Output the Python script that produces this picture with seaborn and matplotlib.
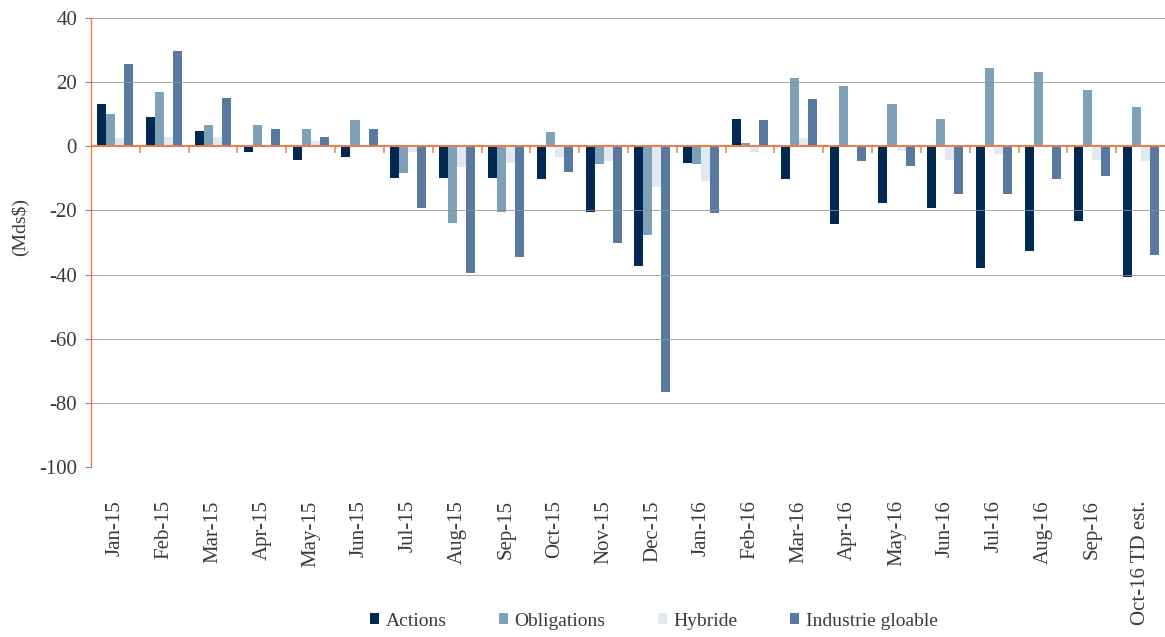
import numpy as np
import pandas as pd
import seaborn as sns
import matplotlib.pyplot as plt

# Monthly net flows (billions of dollars) by fund category
months = ['Jan-15', 'Feb-15', 'Mar-15', 'Apr-15', 'May-15', 'Jun-15', 'Jul-15',
          'Aug-15', 'Sep-15', 'Oct-15', 'Nov-15', 'Dec-15', 'Jan-16', 'Feb-16',
          'Mar-16', 'Apr-16', 'May-16', 'Jun-16', 'Jul-16', 'Aug-16', 'Sep-16',
          'Oct-16 TD est.']
actions = [13.1, 9.0, 4.7, -1.9, -4.3, -3.4, -9.9, -10.0, -10.0, -10.3, -20.5,
           -37.4, -5.3, 8.4, -10.3, -24.3, -17.8, -19.3, -38.0, -32.7, -23.4, -40.8]
obligations = [10.0, 16.8, 6.6, 6.6, 5.3, 8.1, -8.3, -24.0, -20.5, 4.4, -5.6,
               -27.7, -5.6, 1.0, 21.3, 18.8, 13.1, 8.4, 24.4, 23.2, 17.6, 12.2]
hybride = [2.5, 2.8, 2.8, 0.0, 1.6, 0.0, -1.7, -6.5, -5.3, -3.4, -4.7,
           -12.8, -10.9, -1.9, 2.5, 0.0, -1.5, -4.4, -2.5, 0.0, -4.4, -4.7]
industrie = [25.8, 29.7, 15.0, 5.3, 2.8, 5.3, -19.3, -39.6, -34.5, -8.1, -30.2,
             -76.7, -20.9, 8.1, 14.7, -4.7, -6.2, -15.0, -15.0, -10.3, -9.3, -34.0]

series = ['Actions', 'Obligations', 'Hybride', 'Industrie gloable']
colors = ['#002a54', '#7fa1b8', '#e1e8ef', '#587aa0']
yticks = [40, 20, 0, -20, -40, -60, -80, -100]

df = pd.DataFrame({
    'Mois': months * 4,
    'Flux': actions + obligations + hybride + industrie,
    'Catégorie': [s for s in series for _ in months],
})

sns.set_theme(style='white')
plt.rcParams['font.family'] = ['Liberation Serif', 'DejaVu Serif']
plt.rcParams['axes.unicode_minus'] = False
text_color = '#3a3a3a'
orange = '#ef7a48'

fig = plt.figure(figsize=(11.65, 6.37), dpi=100)
ax = fig.add_axes([91 / 1165, 1 - 467 / 637, 1 - 91 / 1165, (467 - 18) / 637])

sns.barplot(data=df, x='Mois', y='Flux', hue='Catégorie', hue_order=series,
            order=months, palette=colors, saturation=1, width=0.74, gap=0,
            errorbar=None, linewidth=0, ax=ax)

ax.set_ylim(min(yticks), max(yticks))
ax.set_yticks(yticks)
ax.set_xlim(-0.5, len(months) - 0.5)

# grid drawn over the bars, as thin grey rules
ax.set_axisbelow(False)
ax.yaxis.grid(True, color='#8f8f8f', linewidth=0.55)
ax.xaxis.grid(False)

for side in ['top', 'right', 'bottom']:
    ax.spines[side].set_visible(False)
ax.spines['left'].set_color(orange)
ax.spines['left'].set_linewidth(1.0)

ax.set_xticks(range(len(months)))
ax.set_xticklabels(months, rotation=90)
ax.tick_params(axis='x', length=0, pad=24, labelsize=15, labelcolor=text_color)
ax.tick_params(axis='y', length=4, width=0.8, color='#8a8a8a', direction='out',
               pad=6, labelsize=15, labelcolor=text_color, left=True)

ax.set_xlabel('')
ax.set_ylabel('(Mds$)', fontsize=14, color=text_color)
ax.yaxis.set_label_coords(-0.058, 0.535)

# orange zero line, above the grid
ax.axhline(0, color=orange, linewidth=1.4, zorder=6)

# small separators between months hanging from the zero line
ymin, ymax = ax.get_ylim()
zero_axis = ax.secondary_xaxis((0 - ymin) / (ymax - ymin))
zero_axis.set_zorder(7)
zero_axis.xaxis.set_ticks_position('bottom')
zero_axis.set_xticks(np.arange(len(months) - 1) + 0.5)
zero_axis.tick_params(axis='x', which='both', bottom=True, top=False,
                      direction='out', length=5, width=1.1, color=orange,
                      labelbottom=False, labeltop=False)
for tl in zero_axis.xaxis.get_ticklines():
    tl.set_color(orange)
    tl.set_markeredgecolor(orange)
for sp in zero_axis.spines.values():
    sp.set_visible(False)

handles, labels = ax.get_legend_handles_labels()
ax.get_legend().remove()
fig.legend(handles, labels, loc='center', bbox_to_anchor=(654 / 1165, 1 - 621 / 637),
           ncol=4, frameon=False, fontsize=14, handlelength=0.45,
           handleheight=0.45, handletextpad=0.35, columnspacing=2.7,
           labelcolor=text_color)

fig.savefig('out.png', dpi=100)
